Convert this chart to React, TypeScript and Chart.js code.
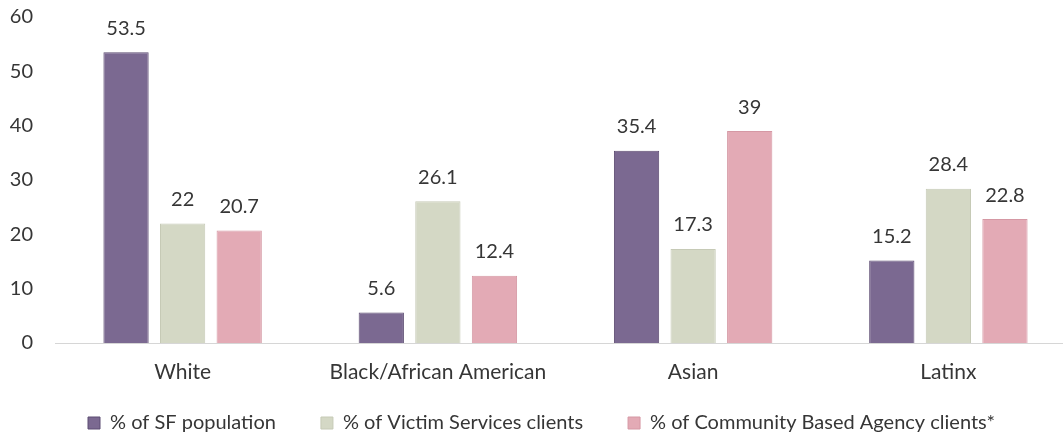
import React, { useEffect, useRef } from "react";
import { Chart, registerables } from "chart.js";

Chart.register(...registerables);

const categories = ["White", "Black/African American", "Asian", "Latinx"];
const seriesNames = [
  "% of SF population",
  "% of Victim Services clients",
  "% of Community Based Agency clients*",
];
const sfPopulation = [53.5, 5.6, 35.4, 15.2];
const victimServices = [22, 26.1, 17.3, 28.4];
const communityAgency = [20.7, 12.4, 39, 22.8];
const yTicks = [0, 10, 20, 30, 40, 50, 60];

const FONT = "Lato, 'Open Sans', sans-serif";
const TEXT = "#363636";
const LEGEND_TEXT_Y = 423;
const LEGEND_PAD = 45;
const LEGEND_FONT = 20;
const LEGEND_LEFT = 88 - LEGEND_PAD;

const valueLabels = {
  id: "valueLabels",
  afterDatasetsDraw(chart: any) {
    const ctx = chart.ctx;
    ctx.save();
    ctx.font = `20px ${FONT}`;
    ctx.fillStyle = TEXT;
    ctx.textAlign = "center";
    ctx.textBaseline = "middle";
    chart.data.datasets.forEach((ds: any, i: number) => {
      const meta = chart.getDatasetMeta(i);
      meta.data.forEach((bar: any, j: number) => {
        ctx.fillText(String(ds.data[j]), bar.x, bar.y - 24);
      });
    });
    ctx.restore();
  },
};

// keep the legend on one row with wide gaps, and place it at the reference height
const legendPlacement = {
  id: "legendPlacement",
  beforeLayout(chart: any) {
    const lg = chart.legend;
    if (lg && !lg.__patched) {
      lg.__patched = true;
      const origFit = lg.fit;
      lg.fit = function () {
        const mw = this.maxWidth;
        this.maxWidth = 5000;
        origFit.call(this);
        this.maxWidth = mw;
        this.width = mw;
        this.height = 40;
      };
    }
  },
  afterLayout(chart: any) {
    const lg = chart.legend;
    if (!lg) return;
    lg.top = LEGEND_TEXT_Y - LEGEND_PAD - LEGEND_FONT / 2;
    lg.bottom = chart.height;
    lg.height = lg.bottom - lg.top;
    lg.left = LEGEND_LEFT;
    lg.right = 5000;
    lg.width = 5000 - lg.left;
  },
};

export default function App() {
  const ref = useRef<HTMLCanvasElement>(null);
  useEffect(() => {
    document.body.style.margin = "0";
    document.body.style.overflow = "hidden";
    const chart = new Chart(ref.current!, {
      type: "bar",
      data: {
        labels: categories,
        datasets: [
          {
            label: seriesNames[0],
            data: sfPopulation,
            backgroundColor: "#7b6991",
            borderColor: "#5d4c72",
            borderWidth: 1,
          },
          {
            label: seriesNames[1],
            data: victimServices,
            backgroundColor: "#d4d8c5",
            borderColor: "#c6cab6",
            borderWidth: 1,
          },
          {
            label: seriesNames[2],
            data: communityAgency,
            backgroundColor: "#e3aab5",
            borderColor: "#d598a4",
            borderWidth: 1,
          },
        ],
      },
      options: {
        animation: false,
        responsive: false,
        layout: { padding: { top: 17, right: 4, bottom: 0, left: 0 } },
        datasets: {
          bar: { categoryPercentage: 0.665, barPercentage: 0.8 },
        },
        scales: {
          x: {
            afterFit: (scale: any) => {
              scale.height = 50;
            },
            grid: { display: false, drawTicks: false },
            border: { display: true, color: "#d6d6d6", width: 1 },
            ticks: {
              color: TEXT,
              font: { family: FONT, size: 21 },
              padding: 17,
              maxRotation: 0,
              autoSkip: false,
            },
          },
          y: {
            min: 0,
            max: 60,
            afterBuildTicks: (scale: any) => {
              scale.ticks = yTicks.map((v) => ({ value: v }));
            },
            afterFit: (scale: any) => {
              scale.width = 55;
              scale.paddingTop = 0;
              scale.paddingBottom = 0;
            },
            grid: { display: false, drawTicks: false },
            border: { display: false },
            ticks: {
              color: TEXT,
              font: { family: FONT, size: 20 },
              padding: 22,
            },
          },
        },
        plugins: {
          legend: {
            position: "bottom",
            align: "start",
            labels: {
              color: TEXT,
              font: { family: FONT, size: LEGEND_FONT },
              boxWidth: 12,
              boxHeight: 12,
              padding: LEGEND_PAD,
              useBorderRadius: false,
            },
          },
          tooltip: { enabled: false },
        },
      },
      plugins: [valueLabels, legendPlacement],
    });
    return () => chart.destroy();
  }, []);
  return (
    <div style={{ width: 1063, height: 433, overflow: "hidden", background: "#fff" }}>
      <canvas ref={ref} width={1080} height={433} style={{ width: 1080, height: 433 }} />
    </div>
  );
}
